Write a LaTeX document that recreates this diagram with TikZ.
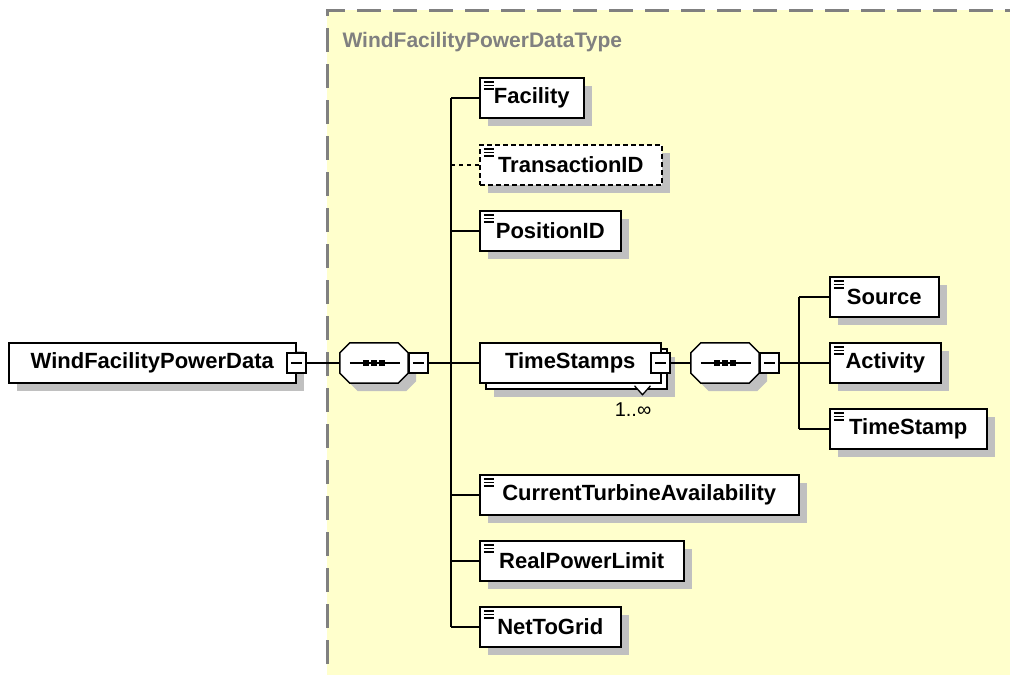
\documentclass[tikz,border=0pt]{standalone}
\usepackage{fontspec}
\setmainfont{Liberation Sans}
\usetikzlibrary{shadows}
\definecolor{typeyellow}{RGB}{255,255,204}
\definecolor{shadowgray}{RGB}{192,192,192}
\definecolor{typegray}{RGB}{128,128,128}
\begin{document}
\begin{tikzpicture}
		    [%%%%%%%%%%%%%%%%%%%%%%%%%%%%%%
		        x=1pt, y=-1pt,
		        elbox/.style={rectangle, draw=black, line width=1.5pt, fill=white,
		            minimum height=40pt, inner xsep=4pt, anchor=west,
		            font=\fontsize{22}{26}\selectfont\bfseries},
		        single/.style={drop shadow={shadow xshift=8pt, shadow yshift=-8pt,
		            fill=shadowgray, opacity=1}},
		        leaf/.style={path picture={\draw[solid, line width=1.4pt]
		            ([xshift=4pt,yshift=-4pt]path picture bounding box.north west) -- ++(10pt,0pt)
		            ([xshift=4pt,yshift=-7.5pt]path picture bounding box.north west) -- ++(10pt,0pt)
		            ([xshift=4pt,yshift=-11pt]path picture bounding box.north west) -- ++(10pt,0pt);}},
		        elem/.style={elbox, single, leaf},
		        optelem/.style={elem, dash pattern=on 5pt off 3pt},
		        multielem/.style={elbox,
		            drop shadow={shadow xshift=14pt, shadow yshift=-14pt, fill=shadowgray, opacity=1},
		            general shadow={shadow xshift=6pt, shadow yshift=-6pt, fill=white,
		                draw=black, line width=1.5pt}},
		        seq/.style={rectangle, minimum width=68pt, minimum height=40pt, inner sep=0pt},
		        seqline/.style={draw=black, line width=1.5pt},
		        minus/.style={rectangle, draw=black, line width=1.3pt, fill=white,
		            minimum width=19pt, minimum height=20pt, inner sep=0pt,
		            path picture={\draw[black, line width=1.3pt]
		                ([xshift=4pt]path picture bounding box.west)
		                -- ([xshift=-4pt]path picture bounding box.east);}},
		        conn/.style={draw=black, line width=1.5pt},
		        typelabel/.style={anchor=west, text=typegray,
		            font=\fontsize{21}{25}\selectfont\bfseries},
		        mult/.style={font=\fontsize{20}{24}\selectfont, inner sep=0pt},
		    ]%%%%%%%%%%%%%%%%%%%%%%%%%%%%%%
		\useasboundingbox (0,0) rectangle (1010,675);

		% complex type area
		\fill[typeyellow] (327,10) rectangle (1040,700);
		\draw[typegray, line width=3pt, dash pattern=on 24pt off 12pt]
		    (327,700) -- (327,10) -- (1040,10);
		\node[typelabel] (typename) at (339,42) {WindFacilityPowerDataType};

		\node[elbox, single, minimum width=287pt] (wfpd) at (8,363) {WindFacilityPowerData};
		\node[minus] (wfpdbtn) at (wfpd.east) {};

		\node[seq] (seqA) at (374,363) {};
		\node[seq] (seqB) at (725,363) {};
		% sequence compositors
		\foreach \s in {seqA,seqB} {
		    \filldraw[seqline, fill=white, single]
		        ([xshift=10pt]\s.north west) -- ([xshift=-10pt]\s.north east)
		        -- ([yshift=-10pt]\s.north east) -- ([yshift=10pt]\s.south east)
		        -- ([xshift=-10pt]\s.south east) -- ([xshift=10pt]\s.south west)
		        -- ([yshift=10pt]\s.south west) -- ([yshift=-10pt]\s.north west) -- cycle;
		    \draw[seqline, line width=1.3pt] ([xshift=10pt]\s.west) -- ([xshift=-8pt]\s.east);
		    \foreach \dx in {-8,0,8}
		        \fill ([xshift=\dx pt]\s.center) +(-3pt,-3pt) rectangle +(3pt,3pt);
		}
		\node[minus, anchor=west] (seqAbtn) at (seqA.east) {};
		\node[minus, anchor=west] (seqBbtn) at (seqB.east) {};
		\coordinate (trunkA) at (451,363);
		\coordinate (trunkB) at (799,363);

		\node[elem, minimum width=104pt] (facility) at (479,98) {Facility};
		\node[optelem, minimum width=182pt] (transid) at (479,165) {TransactionID};
		\node[elem, minimum width=141pt] (posid) at (479,231) {PositionID};
		\node[multielem, minimum width=181pt] (ts) at (479,363) {TimeStamps};
		\node[elem, minimum width=319pt] (cta) at (479,495) {CurrentTurbineAvailability};
		\node[elem, minimum width=204pt] (rpl) at (479,561) {RealPowerLimit};
		\node[elem, minimum width=141pt] (ntg) at (479,627) {NetToGrid};

		\filldraw[fill=white, line width=1.3pt] ([xshift=-27pt,yshift=-2pt]ts.south east)
		    -- ++(8pt,-9pt) -- ++(8pt,9pt);
		\node[minus] (tsbtn) at ([xshift=-1pt]ts.east) {};
		\node[mult, anchor=north east] (tsmult) at ([xshift=-10pt,yshift=-19pt]ts.south east) {1..∞};

		\node[elem, minimum width=109pt] (source) at (829,297) {Source};
		\node[elem, minimum width=111pt] (activity) at (829,363) {Activity};
		\node[elem, minimum width=157pt] (tstamp) at (829,429) {TimeStamp};

		% connectors
		\draw[conn] (wfpdbtn) -- (seqA);
		\draw[conn] (seqAbtn) -- (trunkA);
		\draw[conn] (trunkA |- facility.west) -- (trunkA |- ntg.west);
		\foreach \n in {facility,posid,ts,cta,rpl,ntg}
		    \draw[conn] (trunkA |- \n.west) -- (\n.west);
		\draw[conn, dash pattern=on 4pt off 4pt] (trunkA |- transid.west) -- (transid.west);

		\draw[conn] (tsbtn) -- (seqB);
		\draw[conn] (seqBbtn) -- (trunkB);
		\draw[conn] (trunkB |- source.west) -- (trunkB |- tstamp.west);
		\foreach \n in {source,activity,tstamp}
		    \draw[conn] (trunkB |- \n.west) -- (\n.west);
		\end{tikzpicture}
\end{document}
